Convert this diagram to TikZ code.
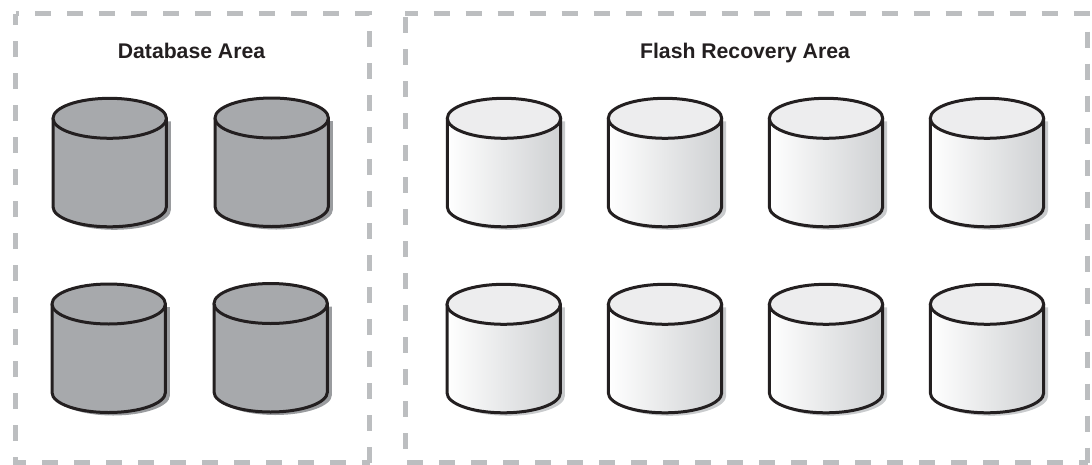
\documentclass[tikz,border=0pt]{standalone}
\usepackage{fontspec}
\setmainfont{Liberation Sans}
\definecolor{edgegray}{HTML}{BCBEC0}
\definecolor{darkdisk}{HTML}{A7A9AC}
\definecolor{darkshade}{HTML}{9A9C9F}
\definecolor{lightshade}{HTML}{C9CBCD}
\definecolor{lighttop}{HTML}{EDEDEE}
\definecolor{lightside}{HTML}{CFD1D3}
\definecolor{diskline}{HTML}{231F20}
\tikzset{
  areabox/.style={draw=edgegray, line width=5pt, dash pattern=on 16pt off 16pt},
  arealabel/.style={font=\bfseries\fontsize{21.2}{25}\selectfont, text=diskline, inner sep=0pt, anchor=base},
  diskedge/.style={draw=diskline, line width=3pt, line join=round},
  dbbody/.style={fill=darkdisk},
  dbtop/.style={fill=darkdisk},
  dbshadow/.style={fill=darkshade},
  flashbody/.style={left color=white, right color=lightside},
  flashtop/.style={fill=lighttop},
  flashshadow/.style={fill=lightshade},
  pics/disk/.style={code={
    \path [#1shadow] (4.5,3) -- (4.5,91.5) arc [start angle=180, end angle=0, x radius=56.7, y radius=20] -- (117.9,3) -- cycle;
    \path [#1body, diskedge] (0,0) -- (0,88.5) arc [start angle=180, end angle=0, x radius=56.7, y radius=20] -- (113.4,0) -- cycle;
    \path [#1top, diskedge] (56.7,0) ellipse [x radius=56.7, y radius=20];
  }}
}
\begin{document}
\begin{tikzpicture}[x=1pt, y=-1pt]
\useasboundingbox (0,0) rectangle (1092,464);

\draw [areabox, dash phase=12.5pt] (15.5,13.5) -- (369.5,13.5) -- (369.5,462.5);
\draw [areabox, dash phase=8.5pt] (369.5,462.5) -- (15.5,462.5) -- (15.5,13.5);
\draw [areabox, dash phase=3.5pt] (405,13.5) -- (1087.5,13.5) -- (1087.5,462.5);
\draw [areabox, dash phase=7.5pt] (1087.5,462.5) -- (405,462.5) -- (405,13.5);

\node [arealabel] (dbarea) at (191.5,58) {Database Area};
\node [arealabel] (flasharea) at (745,58) {Flash Recovery Area};

\pic at (53,118.3) {disk=db};
\pic at (215,118) {disk=db};
\pic at (52,304) {disk=db};
\pic at (214,303.5) {disk=db};

\pic at (447.3,118.3) {disk=flash};
\pic at (608.3,118.3) {disk=flash};
\pic at (769.3,118.3) {disk=flash};
\pic at (930.3,118.3) {disk=flash};
\pic at (447,304.3) {disk=flash};
\pic at (608.3,304.3) {disk=flash};
\pic at (769.3,304.3) {disk=flash};
\pic at (930.3,304.3) {disk=flash};
\end{tikzpicture}
\end{document}
